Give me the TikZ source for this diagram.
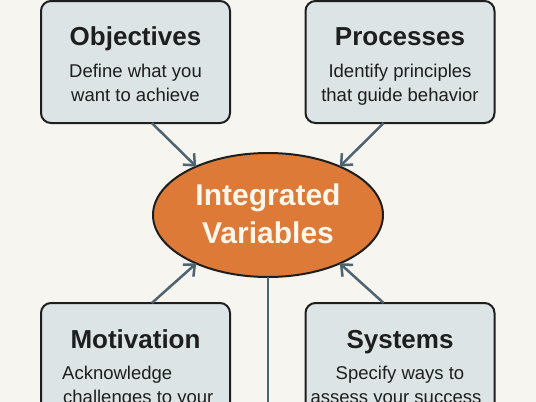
\documentclass[tikz,border=0pt]{standalone}
\usepackage{fontspec}
\setmainfont{Liberation Sans}
\usetikzlibrary{arrows.meta,shapes.geometric}
\definecolor{bgc}{HTML}{F7F5F0}
\definecolor{boxc}{HTML}{DDE4E5}
\definecolor{edgec}{HTML}{1E1E1E}
\definecolor{arrc}{HTML}{4E6470}
\definecolor{orc}{HTML}{DD7A38}
\definecolor{ivtxt}{HTML}{FFF6EC}
\tikzset{
  card/.style={draw=edgec, fill=boxc, line width=2pt, rounded corners=10pt,
    minimum width=189pt, minimum height=122pt, inner sep=0pt, outer sep=0pt},
  ttl/.style={anchor=base, inner sep=0pt, font=\fontsize{26}{30}\selectfont\bfseries, text=edgec},
  dsc/.style={anchor=base, inner sep=0pt, font=\fontsize{18.5}{22}\selectfont, text=edgec},
  dscl/.style={anchor=base west, inner sep=0pt, font=\fontsize{18.5}{22}\selectfont, text=edgec},
  ivtext/.style={anchor=base, inner sep=0pt, font=\fontsize{30}{34}\selectfont\bfseries, text=ivtxt},
  conn/.style={draw=arrc, line width=2.5pt, -{Straight Barb[length=9pt,width=16pt,line width=2.5pt]}},
  plain/.style={draw=arrc, line width=2.5pt}
}
\begin{document}
\begin{tikzpicture}[x=1pt,y=-1pt]
\useasboundingbox (0,0) rectangle (536,402);
\clip (0,0) rectangle (536,402);
\fill[bgc] (0,0) rectangle (536,402);

% boxes
\node[card] (obj) at (135.5,62) {};
\node[card] (prc) at (400,62) {};
\node[card] (mot) at (135.5,364) {};
\node[card] (sys) at (400,364) {};

% ellipse
\node[ellipse, draw=edgec, fill=orc, line width=2pt, minimum width=230pt,
  minimum height=124pt, inner sep=0pt, outer sep=0pt] (iv) at (268,215) {};
\node[ivtext] (iv1) at (268,205) {Integrated};
\node[ivtext] (iv2) at (268,243) {Variables};

% texts
\node[ttl] (objT) at (135.5,45) {Objectives};
\node[dsc] (objD1) at (135.5,77) {Define what you};
\node[dsc] (objD2) at (135.5,101) {want to achieve};

\node[ttl] (prcT) at (400,45) {Processes};
\node[dsc] (prcD1) at (400,77) {Identify principles};
\node[dsc] (prcD2) at (400,101) {that guide behavior};

\node[ttl] (motT) at (135.5,348) {Motivation};
\node[dscl] (motD1) at (62,379) {Acknowledge};
\node[dscl] (motD2) at (63,403) {challenges to your};

\node[ttl] (sysT) at (400,348) {Systems};
\node[dsc] (sysD1) at (400,379) {Specify ways to};
\node[dsc] (sysD2) at (396,403) {assess your success};

% connectors
\draw[conn] (obj.-75) -- (iv.146);
\draw[conn] (prc.-105) -- (iv.34);
\draw[conn] (mot.75) -- (iv.214);
\draw[conn] (sys.105) -- (iv.-34);
\coordinate (bottom) at (268,420);
\draw[plain] (iv.south) -- (bottom);
\end{tikzpicture}
\end{document}
